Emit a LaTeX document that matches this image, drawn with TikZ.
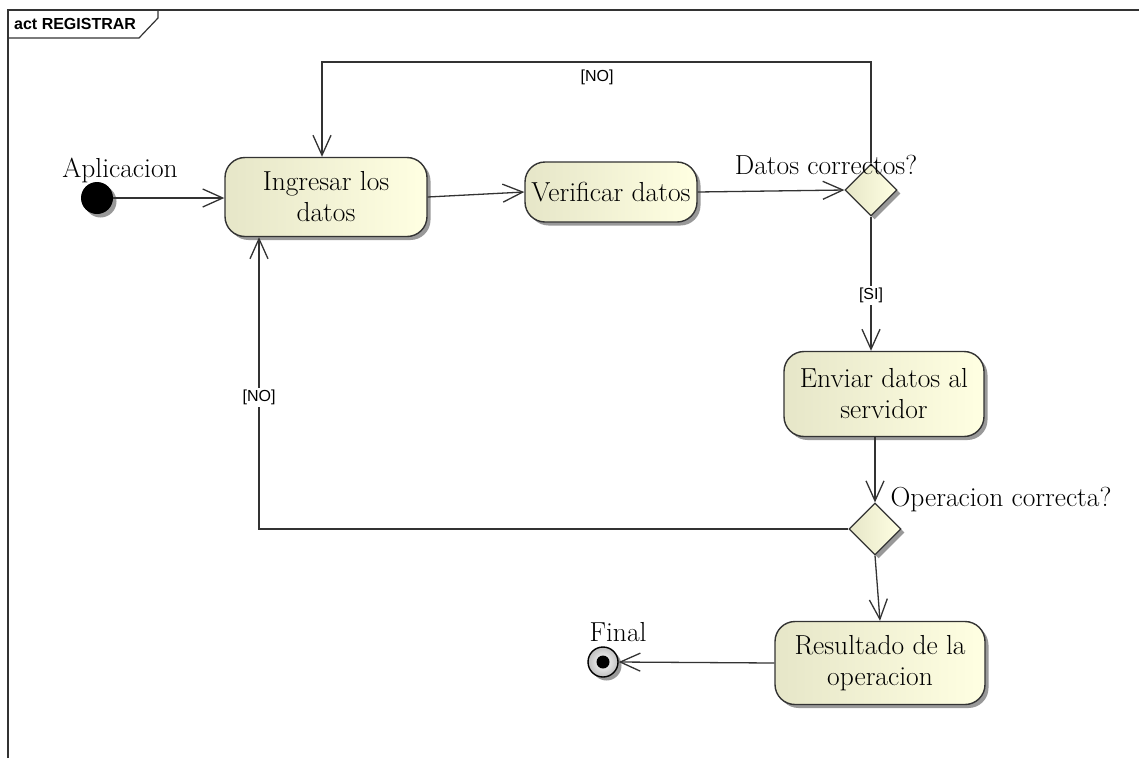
\documentclass[tikz,border=0pt]{standalone}
\usepackage{fontspec}
\newfontfamily\labelfont{Liberation Sans}
\usetikzlibrary{shapes.geometric,arrows.meta,shadows}

\definecolor{lineC}{HTML}{333333}
\definecolor{fillL}{HTML}{E6E6C8}
\definecolor{fillR}{HTML}{FFFFE2}

\tikzset{
  x=1pt, y=-1pt,
  umlshadow/.style={drop shadow={shadow xshift=3.5pt, shadow yshift=-3.5pt, opacity=0.4, fill=black}},
  actbox/.style={draw=lineC, line width=1.4pt, rounded corners=20pt,
    left color=fillL, right color=fillR, umlshadow,
    align=center, font=\fontsize{27.5}{31}\selectfont, inner sep=0pt},
  decision/.style={diamond, draw=lineC, line width=1.2pt, aspect=1,
    minimum width=52pt, minimum height=52pt, inner sep=0pt,
    left color=fillL, right color=fillR, umlshadow},
  flow/.style={draw=lineC, line width=1.3pt,
    -{Straight Barb[length=20pt, width=18pt, line width=1.3pt]}},
  guard/.style={font=\labelfont\fontsize{16}{18}\selectfont, fill=white, inner sep=2pt},
  caption/.style={font=\fontsize{27.5}{31}\selectfont, inner sep=0pt}
}

\begin{document}
\begin{tikzpicture}
\useasboundingbox (0,0) rectangle (1139,758);
\fill[white] (0,0) rectangle (1139,758);

% frame with name tab
\draw[lineC, line width=1.2pt] (8,758) -- (8,10) -- (1139,10);
\draw[lineC, line width=1.2pt] (8,38) -- (139,38) -- (158,18) -- (158,10);
\node[anchor=base west, font=\labelfont\bfseries\fontsize{16}{18}\selectfont, inner sep=0pt]
  (title) at (14,29) {act REGISTRAR};

% initial and final nodes
\node[circle, fill=black, minimum size=32pt, inner sep=0pt, umlshadow] (init) at (97,198) {};
\node[caption] (initlbl) at (120,170) {Aplicacion};

\node[circle, draw=black, line width=1.4pt, minimum size=30pt, inner sep=0pt,
  inner color=white, outer color=black!25, umlshadow] (fin) at (603,662) {};
\fill[black] (fin.center) circle (6.5pt);
\node[caption] (finlbl) at (618,632) {Final};

% actions
\node[actbox, minimum width=202pt, minimum height=79pt] (ing) at (326,197) {Ingresar los\\datos};
\node[actbox, minimum width=172pt, minimum height=60pt] (ver) at (611,192) {Verificar datos};
\node[actbox, minimum width=200pt, minimum height=85pt] (env) at (884,394) {Enviar datos al\\servidor};
\node[actbox, minimum width=210pt, minimum height=83pt] (res) at (880,663) {Resultado de la\\operacion};

% decisions
\node[decision] (d1) at (871,190) {};
\node[caption] (d1lbl) at (826,165) {Datos correctos?};
\node[decision] (d2) at (875,529) {};
\node[caption] (d2lbl) at (1001,500) {Operacion correcta?};

% bends of the loops back to the first action
\coordinate (t1) at (322,62);
\coordinate (t2) at (259,529);

% flows
\draw[flow] (init) -- (ing.west |- init);
\draw[flow] (ing.east) -- (ver.west);
\draw[flow] (ver.east) -- (d1.west);
\draw[flow] (d1.north) |- (t1) -- (t1 |- ing.north);
\node[guard] (no1) at (597,77) {[NO]};
\draw[flow] (d1.south) -- (d1.south |- env.north) node[guard, pos=0.59] (si) {[SI]};
\draw[flow] (d2.north |- env.south) -- (d2.north);
\draw[flow] (d2.west) -- (t2) -- (t2 |- ing.south) node[guard, pos=0.45] (no2) {[NO]};
\draw[flow] (d2.south) -- (res.north);
\draw[flow] (res.west) -- (fin.east);
\end{tikzpicture}
\end{document}
